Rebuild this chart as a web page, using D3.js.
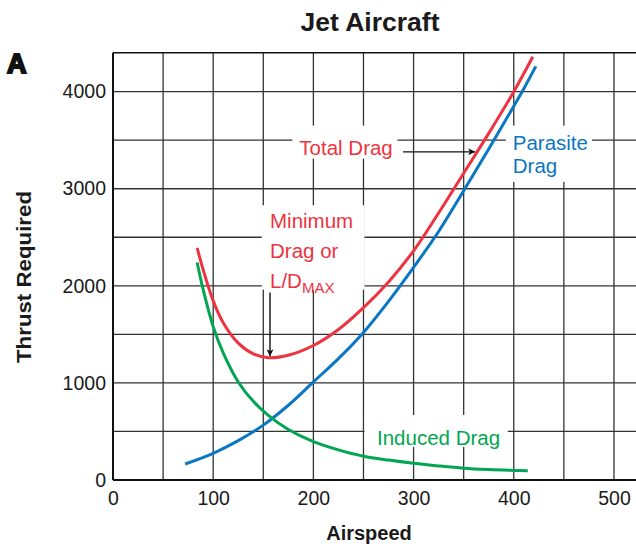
<!DOCTYPE html>
<html>
<head>
<meta charset="utf-8">
<script src="https://cdn.jsdelivr.net/npm/d3@7"></script>
<style>
  html, body { margin: 0; padding: 0; background: #fff; }
  svg { display: block; font-family: "Liberation Sans", Arial, Helvetica, sans-serif; }
</style>
</head>
<body>
<svg id="chart" width="636" height="546"></svg>
<script>
// ---- data ----
const xTicks = [0, 100, 200, 300, 400, 500];
const yTicks = [0, 1000, 2000, 3000, 4000];

const parasiteSpeed = [72, 100, 125, 150, 175, 200, 225, 250, 275, 300, 325, 350, 375, 400, 410, 422];
const parasiteThrust = [165, 275, 405, 565, 770, 1010, 1250, 1520, 1840, 2190, 2560, 2980, 3410, 3850, 4030, 4260];

const inducedSpeed = [84, 90, 100, 110, 125, 140, 155, 175, 200, 225, 250, 275, 300, 325, 350, 375, 400, 414];
const inducedThrust = [2240, 1960, 1580, 1310, 1010, 810, 665, 520, 395, 310, 245, 205, 172, 145, 122, 108, 99, 95];

const totalSpeed = [84, 90, 100, 110, 125, 140, 155, 175, 200, 225, 250, 275, 300, 325, 350, 375, 400, 419];
const totalThrust = [2390, 2165, 1845, 1620, 1410, 1300, 1260, 1285, 1385, 1550, 1775, 2040, 2360, 2750, 3160, 3570, 4000, 4360];

const titleText = "Jet Aircraft";
const xTitle = "Airspeed";
const yTitle = "Thrust Required";

const colors = { total: "#ed3340", parasite: "#0a76c4", induced: "#00a651" };

// ---- layout ----
const svg = d3.select("#chart");
const x = d3.scaleLinear().domain([0, 522]).range([113, 636]);
const y = d3.scaleLinear().domain([0, 4400]).range([480, 52.8]);

// grid
const grid = svg.append("g");
grid.selectAll("line.v").data(d3.range(50, 501, 50)).join("line")
  .attr("x1", d => x(d)).attr("x2", d => x(d))
  .attr("y1", y(0)).attr("y2", y(4400))
  .attr("stroke", "#333").attr("stroke-width", 1.3);
grid.selectAll("line.h").data(d3.range(500, 4001, 500)).join("line")
  .attr("x1", x(0)).attr("x2", 636)
  .attr("y1", d => y(d)).attr("y2", d => y(d))
  .attr("stroke", "#333").attr("stroke-width", 1.3);
// frame
svg.append("line").attr("x1", x(0)).attr("x2", 636).attr("y1", y(4400)).attr("y2", y(4400))
  .attr("stroke", "#111").attr("stroke-width", 1.6);

// white boxes behind annotation labels (data units)
const boxes = [
  { x0: 179, x1: 284, y0: 3310, y1: 3650 },   // Total Drag
  { x0: 392, x1: 478, y0: 3070, y1: 3650 },   // Parasite Drag
  { x0: 148.5, x1: 251, y0: 1960, y1: 2830 }, // Minimum Drag
  { x0: 251, x1: 394, y0: 340, y1: 670 }      // Induced Drag
];
svg.append("g").selectAll("rect").data(boxes).join("rect")
  .attr("x", d => x(d.x0)).attr("width", d => x(d.x1) - x(d.x0))
  .attr("y", d => y(d.y1)).attr("height", d => y(d.y0) - y(d.y1))
  .attr("fill", "#fff");

// axes lines
svg.append("line").attr("x1", x(0)).attr("x2", x(0)).attr("y1", y(0)).attr("y2", y(4400))
  .attr("stroke", "#111").attr("stroke-width", 2);
svg.append("line").attr("x1", x(0)).attr("x2", 636).attr("y1", y(0)).attr("y2", y(0))
  .attr("stroke", "#111").attr("stroke-width", 2.2);

// tick labels via d3 axes
const xAxis = svg.append("g").attr("transform", `translate(0,${y(0)})`)
  .call(d3.axisBottom(x).tickValues(xTicks).tickSize(0).tickPadding(11).tickFormat(d3.format("d")));
xAxis.select(".domain").remove();
xAxis.selectAll("text").attr("font-size", "19.5px").attr("fill", "#1a1a1a")
  .attr("font-family", "Liberation Sans, Arial, sans-serif");

const yAxis = svg.append("g").attr("transform", `translate(${x(0)},0)`)
  .call(d3.axisLeft(y).tickValues(yTicks).tickSize(0).tickPadding(7).tickFormat(d3.format("d")));
yAxis.select(".domain").remove();
yAxis.selectAll("text").attr("font-size", "19.5px").attr("fill", "#1a1a1a")
  .attr("font-family", "Liberation Sans, Arial, sans-serif");

// curves
const line = d3.line().x(d => x(d[0])).y(d => y(d[1])).curve(d3.curveCatmullRom.alpha(0.5));
const series = [
  { pts: d3.zip(parasiteSpeed, parasiteThrust), c: colors.parasite },
  { pts: d3.zip(inducedSpeed, inducedThrust), c: colors.induced },
  { pts: d3.zip(totalSpeed, totalThrust), c: colors.total }
];
svg.append("g").selectAll("path").data(series).join("path")
  .attr("d", d => line(d.pts)).attr("fill", "none")
  .attr("stroke", d => d.c).attr("stroke-width", 3).attr("stroke-linecap", "butt");

// arrows
const defs = svg.append("defs");
defs.append("marker").attr("id", "arr").attr("viewBox", "0 0 10 10")
  .attr("refX", 10).attr("refY", 5).attr("markerWidth", 9).attr("markerHeight", 7)
  .attr("markerUnits", "userSpaceOnUse").attr("orient", "auto")
  .append("path").attr("d", "M0,0 L10,5 L0,10 L2.5,5 Z").attr("fill", "#111");

const arrows = [
  { x0: 289.5, y0: 3380, x1: 361.5, y1: 3380 },
  { x0: 156.7, y0: 1930, x1: 156.7, y1: 1275 }
];
svg.append("g").selectAll("line").data(arrows).join("line")
  .attr("x1", d => x(d.x0)).attr("y1", d => y(d.y0))
  .attr("x2", d => x(d.x1)).attr("y2", d => y(d.y1))
  .attr("stroke", "#111").attr("stroke-width", 1.4).attr("marker-end", "url(#arr)");

// annotation text
const ann = svg.append("g").attr("font-size", "20.5px");
const addText = (txt, xv, yv, c) => ann.append("text").attr("x", x(xv)).attr("y", y(yv)).attr("fill", c).text(txt);
addText("Total Drag", 186, 3345, colors.total);
addText("Parasite", 399, 3400, colors.parasite);
addText("Drag", 399, 3165, colors.parasite);
addText("Minimum", 156.7, 2595, colors.total);
addText("Drag or", 156.7, 2287, colors.total);
const ld = addText("L/D", 156.7, 1978, colors.total);
ld.append("tspan").attr("font-size", "15px").attr("dy", 5).text("MAX");
addText("Induced Drag", 263.5, 362, colors.induced);

// titles
svg.append("text").attr("x", 370).attr("y", 31).attr("text-anchor", "middle")
  .attr("font-size", "26.5px").attr("font-weight", "bold").attr("fill", "#1a1a1a").text(titleText);
svg.append("text").attr("x", 7).attr("y", 73)
  .attr("font-size", "27px").attr("font-weight", "900").attr("fill", "#111")
  .attr("stroke", "#111").attr("stroke-width", 2).text("A");
svg.append("text").attr("x", 369).attr("y", 540).attr("text-anchor", "middle")
  .attr("font-size", "20px").attr("font-weight", "bold").attr("fill", "#1a1a1a").text(xTitle);
svg.append("text").attr("transform", "translate(31,277) rotate(-90)").attr("text-anchor", "middle")
  .attr("font-size", "20px").attr("font-weight", "bold").attr("fill", "#1a1a1a")
  .attr("textLength", 172).attr("lengthAdjust", "spacingAndGlyphs").text(yTitle);
</script>
</body>
</html>
